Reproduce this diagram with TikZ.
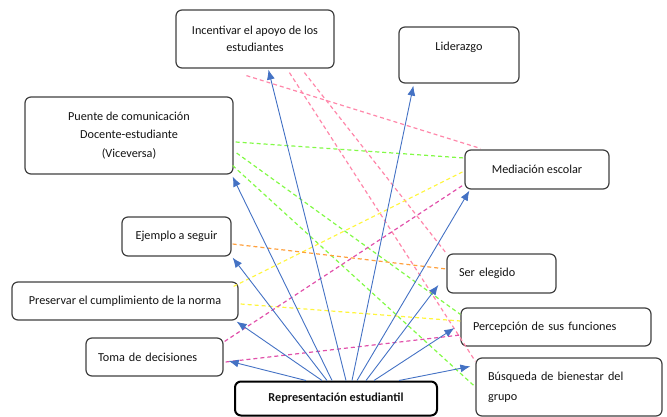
\documentclass[tikz,border=0pt]{standalone}
\usepackage{fontspec}
\setmainfont{Carlito}
\usetikzlibrary{arrows.meta}
\definecolor{boxgray}{RGB}{64,64,64}
\definecolor{txt}{RGB}{20,20,20}
\definecolor{arrblue}{RGB}{68,114,196}
\definecolor{dpink}{RGB}{255,135,170}
\definecolor{dgreen}{RGB}{130,250,70}
\definecolor{dyellow}{RGB}{255,245,60}
\definecolor{dorange}{RGB}{255,160,60}
\definecolor{dmagenta}{RGB}{225,80,170}
\begin{document}
\begin{tikzpicture}[x=1pt,y=-1pt,
  box/.style={draw=boxgray, rounded corners=6pt, line width=1.2pt, fill=white,
    inner sep=0pt, align=center, text=txt,
    font=\fontsize{12.2}{17}\selectfont},
  lbox/.style={box, align=left, inner xsep=12pt},
  arr/.style={draw=arrblue, line width=0.9pt, -{Latex[length=10pt,width=8pt]}},
  dl/.style={line width=1.2pt, dash pattern=on 4pt off 3pt}
]
\useasboundingbox (0,0) rectangle (667,417);

% boxes
\node[box, minimum width=158pt, minimum height=58pt] (inc) at (255,39) {Incentivar el apoyo de los\\estudiantes};
\node[box, minimum width=120pt, minimum height=56pt] (lid) at (459,55) {Liderazgo\\~};
\node[box, minimum width=208pt, minimum height=77pt] (pue) at (129,135.5) {Puente de comunicación\\[1.5pt]Docente-estudiante\\[1.5pt](Viceversa)};
\node[box, minimum width=144pt, minimum height=39pt] (med) at (537,169.5) {Mediación escolar};
\node[box, minimum width=109pt, minimum height=39pt] (eje) at (176.5,236.5) {Ejemplo a seguir};
\node[box, minimum width=226pt, minimum height=38pt] (pre) at (125,301) {Preservar el cumplimiento de la norma};
\node[lbox, text width=113pt, minimum height=38pt] (tom) at (154.5,357) {Toma de decisiones};
\node[box, draw=black, line width=2pt, minimum width=202pt, minimum height=34pt,
      font=\fontsize{12.2}{17}\selectfont\bfseries] (rep) at (336,398.5) {Representación estudiantil};
\node[lbox, text width=85pt, minimum height=39pt] (ser) at (501.5,273.5) {Ser elegido};
\node[lbox, text width=166pt, minimum height=38pt] (per) at (556,327) {Percepción de sus funciones};
\node[lbox, text width=162pt, minimum height=58pt, font=\fontsize{12.2}{20}\selectfont] (bus) at (569,387) {Búsqueda de bienestar del\\grupo};

% dashed relations
\draw[dl, dpink] ([xshift=71pt,yshift=-7pt]inc.south west) -- ([xshift=16pt,yshift=1pt]med.north west);
\draw[dl, dpink] ([xshift=114pt,yshift=-4pt]inc.south west) -- ([yshift=-4pt]bus.north west);
\draw[dl, dpink] ([xshift=129pt,yshift=-4pt]inc.south west) -- (ser.north west);
\draw[dl, dgreen] ([xshift=2pt,yshift=-6.5pt]pue.east) -- ([yshift=11.5pt]med.west);
\draw[dl, dgreen] ([xshift=3pt,yshift=-17.5pt]pue.east) -- ([yshift=-7pt]per.north west);
\draw[dl, dgreen] ([xshift=-1pt,yshift=-30pt]pue.east) -- (bus.west);
\draw[dl, dyellow] ([xshift=-5pt,yshift=-5pt]pre.north east) -- ([xshift=-2pt,yshift=-2.5pt]med.west);
\draw[dl, dyellow] ([xshift=2pt,yshift=-3pt]pre.east) -- ([yshift=6pt]per.west);
\draw[dl, dorange] ([xshift=1pt,yshift=-7.5pt]eje.east) -- ([yshift=4.5pt]ser.west);
\draw[dl, dmagenta] ([xshift=1pt,yshift=-4pt]tom.north east) -- ([xshift=-2pt,yshift=4pt]med.south west);
\draw[dl, dmagenta] ([xshift=2pt,yshift=-5pt]tom.east) -- ([yshift=-8pt]per.west);

% arrows
\draw[arr] ([xshift=72pt]rep.north west) -- ([xshift=5pt,yshift=-4pt]tom.east);
\draw[arr] ([xshift=88pt]rep.north west) -- ([xshift=-2pt,yshift=-1pt]pre.south east);
\draw[arr] ([xshift=93pt]rep.north west) -- ([xshift=1pt,yshift=-1pt]eje.south east);
\draw[arr] ([xshift=98pt]rep.north west) -- ([xshift=-1pt,yshift=-2pt]pue.south east);
\draw[arr] ([xshift=112pt]rep.north west) -- ([xshift=93pt,yshift=-1pt]inc.south west);
\draw[arr] ([xshift=118pt]rep.north west) -- ([xshift=15pt,yshift=-2pt]lid.south west);
\draw[arr] ([xshift=123pt]rep.north west) -- ([xshift=5pt,yshift=-1pt]med.south west);
\draw[arr] ([xshift=132pt]rep.north west) -- ([xshift=-8pt,yshift=-11.5pt]ser.west);
\draw[arr] ([xshift=140pt]rep.north west) -- ([xshift=-6pt,yshift=-1pt]per.west);
\draw[arr] ([xshift=165pt]rep.north west) -- ([xshift=-5pt,yshift=-9pt]bus.north west);
\end{tikzpicture}
\end{document}
